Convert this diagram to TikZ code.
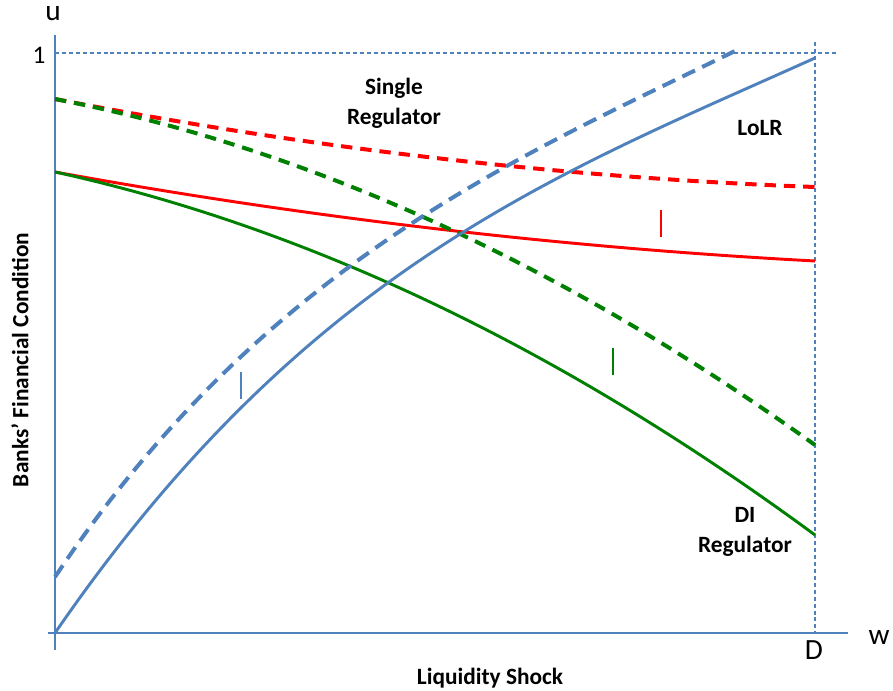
\documentclass[tikz,border=0pt]{standalone}
\usepackage{fontspec}
\setmainfont{Carlito}
\definecolor{axblue}{HTML}{4F81BD}
\definecolor{cred}{HTML}{FF0000}
\definecolor{cgreen}{HTML}{008000}
\begin{document}
\begin{tikzpicture}[x=0.75pt,y=-0.75pt,
  axis/.style={axblue,line width=1.5pt},
  guide/.style={axblue,line width=1.1pt,dash pattern=on 3pt off 2.2pt},
  solidcurve/.style={line width=2.2pt},
  dashcurve/.style={line width=3pt},
  bluedash/.style={dash pattern=on 10.5pt off 6pt},
  rgdash/.style={dash pattern=on 8.5pt off 6pt},
  tickmark/.style={line width=1.5pt},
  lab/.style={font=\bfseries\fontsize{17.5}{22.5}\selectfont,align=center,inner sep=0pt},
  axlab/.style={font=\fontsize{22}{26}\selectfont,inner sep=0pt}]
\useasboundingbox (0,0) rectangle (893,691);
% guides
\coordinate (g1a) at (55,53); \coordinate (g1b) at (838,53);
\coordinate (g2a) at (815,42); \coordinate (g2b) at (815,633);
\draw[guide] (g1a) -- (g1b);
\draw[guide] (g2a) -- (g2b);
% axes
\coordinate (ytop) at (55,35); \coordinate (ybot) at (55,650);
\coordinate (xl) at (48,633); \coordinate (xr) at (848,633);
\draw[axis] (ytop) -- (ybot);
\draw[axis] (xl) -- (xr);
% curve end points
\coordinate (rs0) at (55,172); \coordinate (rs1) at (815,261);
\coordinate (rd0) at (55,99);  \coordinate (rd1) at (815,187);
\coordinate (gs0) at (55,172); \coordinate (gs1) at (815,535);
\coordinate (gd0) at (55,99);  \coordinate (gd1) at (815,445);
\coordinate (bs0) at (55,633); \coordinate (bs1) at (815,58);
\coordinate (bd0) at (55,577); \coordinate (bd1) at (735,51);
% curves
\draw[cred,solidcurve] (rs0) .. controls (308.3,217.9) and (561.7,247.5) .. (rs1);
\draw[cred,dashcurve,rgdash] (rd0) .. controls (308.3,148.2) and (561.7,177.6) .. (rd1);
\draw[cgreen,solidcurve] (gs0) .. controls (308.3,227.5) and (561.7,348.5) .. (gs1);
\draw[cgreen,dashcurve,rgdash] (gd0) .. controls (308.3,148.1) and (561.7,263.5) .. (gd1);
\draw[axblue,solidcurve] (bs0) .. controls (308,265) and (562,172) .. (bs1);
\draw[axblue,dashcurve,bluedash] (bd0) .. controls (265,262) and (525,154) .. (bd1);
% ticks
\coordinate (tb1) at (241,372); \coordinate (tb2) at (241,399);
\coordinate (tr1) at (661,210); \coordinate (tr2) at (661,237);
\coordinate (tg1) at (613,348); \coordinate (tg2) at (613,375);
\draw[axblue,tickmark] (tb1) -- (tb2);
\draw[cred,tickmark] (tr1) -- (tr2);
\draw[cgreen,tickmark] (tg1) -- (tg2);
% labels
\node[axlab] (u) at (53,14) {u};
\node[axlab,font=\fontsize{19}{22}\selectfont] (one) at (39,55) {1};
\node[axlab] (w) at (879,637) {w};
\node[axlab] (D) at (814,650) {D};
\node[lab] (single) at (394,103) {Single\\Regulator};
\node[lab] (lolr) at (760,128) {LoLR};
\node[lab] (di) at (745,532) {DI\\Regulator};
\node[lab] (xlab) at (490,678) {Liquidity Shock};
\node[lab,rotate=90] (ylab) at (20,360) {Banks’ Financial Condition};
\end{tikzpicture}
\end{document}
